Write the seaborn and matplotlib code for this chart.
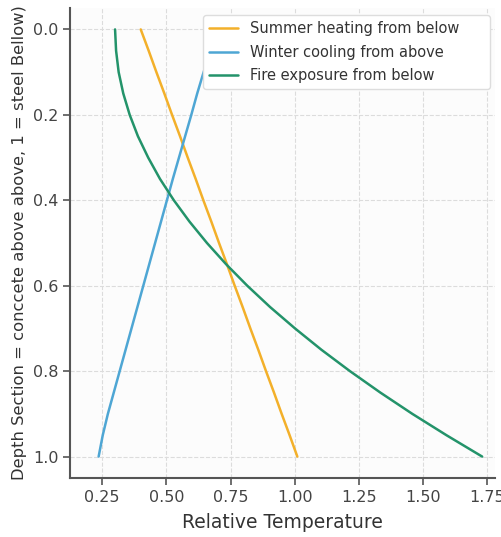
import numpy as np
import pandas as pd
import matplotlib
matplotlib.use("Agg")
import matplotlib.pyplot as plt
import seaborn as sns

# depth through section (0 = concrete top, 1 = steel bottom)
depth = [0.00, 0.05, 0.10, 0.15, 0.20, 0.25, 0.30, 0.35, 0.40, 0.45, 0.50,
         0.55, 0.60, 0.65, 0.70, 0.75, 0.80, 0.85, 0.90, 0.95, 1.00]

# relative temperature
summer = [0.400, 0.431, 0.461, 0.492, 0.522, 0.553, 0.583, 0.614, 0.644, 0.675, 0.705,
          0.736, 0.766, 0.797, 0.827, 0.858, 0.888, 0.919, 0.949, 0.980, 1.010]
winter = [0.700, 0.672, 0.645, 0.620, 0.597, 0.573, 0.549, 0.525, 0.502, 0.479, 0.456,
          0.433, 0.410, 0.387, 0.364, 0.341, 0.318, 0.295, 0.272, 0.252, 0.236]
fire = [0.300, 0.304, 0.314, 0.332, 0.357, 0.389, 0.429, 0.475, 0.529, 0.590, 0.658,
        0.733, 0.815, 0.904, 1.001, 1.104, 1.215, 1.333, 1.458, 1.591, 1.730]

labels = ["Summer heating from below", "Winter cooling from above", "Fire exposure from below"]
colors = ["#f3b02a", "#4ea6d4", "#23936a"]

sns.set_theme(style="whitegrid")
plt.rcParams['font.family'] = ['DejaVu Sans']

fig = plt.figure(figsize=(5.01, 5.37), dpi=100, facecolor="white")
ax = fig.add_axes([0.14, 0.11, 0.848, 0.875])
ax.set_facecolor("#fcfcfc")

for vals, lab, col in zip([summer, winter, fire], labels, colors):
    sns.lineplot(x=vals, y=depth, orient="y", label=lab, color=col, linewidth=1.8, ax=ax)

ax.set_xlim(0.125, 1.78)
ax.set_ylim(1.05, -0.05)
ax.set_xticks([0.25, 0.50, 0.75, 1.00, 1.25, 1.50, 1.75])
ax.set_yticks([0.0, 0.2, 0.4, 0.6, 0.8, 1.0])

ax.grid(True, linestyle="--", color="#dcdcdc", linewidth=0.8)
for s in ["top", "right"]:
    ax.spines[s].set_visible(False)
for s in ["left", "bottom"]:
    ax.spines[s].set_color("#555555")
    ax.spines[s].set_linewidth(1.5)
ax.tick_params(axis="both", which="both", length=5, width=1.2, color="#555555",
               labelsize=11.5, labelcolor="#444444", bottom=True, left=True)

ax.set_xlabel("Relative Temperature", fontsize=13.5, color="#333333", labelpad=6)
ax.set_ylabel("Depth Section = conccete above above, 1 = steel Bellow)", fontsize=11.8,
              color="#333333", labelpad=4)

leg = ax.legend(loc="upper left", bbox_to_anchor=(0.313, 0.0, 0.675, 0.985), mode="expand",
                fontsize=10.5, frameon=True, edgecolor="#dddddd", facecolor="white",
                framealpha=1, handlelength=2.0, borderaxespad=0.0, labelspacing=0.6)
for t in leg.get_texts():
    t.set_color("#333333")

fig.savefig("out.png", dpi=100)
